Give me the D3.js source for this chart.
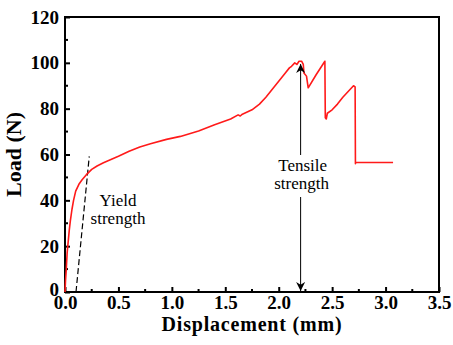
<!DOCTYPE html>
<html lang="en">
<head>
  <meta charset="utf-8">
  <title>Load vs Displacement</title>
  <script src="https://d3js.org/d3.v7.js"></script>
  <style>
    body { margin: 0; background: #fff; }
    svg text { font-family: "Liberation Serif", "Times New Roman", Times, serif; }
  </style>
</head>
<body>
  <div id="my_dataviz"></div>

  <script>
    // Curve data
    var displacement = [0, 0.005, 0.012, 0.02, 0.03, 0.04, 0.05, 0.065, 0.08, 0.1, 0.13, 0.16, 0.2, 0.25, 0.3, 0.36, 0.43, 0.5,
      0.6, 0.7, 0.8, 0.95, 1.08, 1.25, 1.4, 1.55, 1.62, 1.64, 1.66, 1.75, 1.82, 1.88, 1.94, 2.0, 2.06, 2.1, 2.12, 2.15, 2.17, 2.19,
      2.214, 2.23, 2.236, 2.26, 2.276, 2.35, 2.432, 2.436, 2.445, 2.455, 2.5, 2.55, 2.6, 2.65, 2.7, 2.715, 2.718, 2.72, 3.07];
    var load = [0, 5, 10, 17, 22, 27, 31, 36, 40, 44, 47, 49, 51.2, 53.5, 55, 56.4, 57.8, 59.2,
      61.4, 63.3, 64.7, 66.6, 67.9, 70.3, 73, 75.5, 77.3, 76.8, 77.6, 79.5, 82, 85, 88.5, 92, 95.5, 97.8, 98.5, 100, 99.3, 100.7,
      100.7, 99.3, 95.6, 94.2, 89.1, 94.8, 100.7, 76, 75.5, 78, 79.5, 82, 85, 87.5, 90, 89.5, 56, 56.5, 56.5];

    // Dashed elastic line
    var yieldLineX = [0.103, 0.227];
    var yieldLineY = [0, 59.2];

    // Tensile strength arrow
    var tensileX = 2.205;
    var tensileTop = 99.5;

    var xTicks = [0, 0.5, 1.0, 1.5, 2.0, 2.5, 3.0, 3.5];
    var yTicks = [0, 20, 40, 60, 80, 100, 120];

    var W = 453, H = 345;
    var margin = {top: 17, right: 14, bottom: 53, left: 65},
        width = W - margin.left - margin.right,
        height = H - margin.top - margin.bottom;

    var serif = "'Liberation Serif', 'Times New Roman', Times, serif";

    var svg = d3.select("#my_dataviz")
      .append("svg")
      .attr("width", W)
      .attr("height", H)
      .attr("font-family", serif);

    var defs = svg.append("defs");
    defs.append("marker")
      .attr("id", "arrowUp")
      .attr("viewBox", "0 0 10 10")
      .attr("refX", 5).attr("refY", 0)
      .attr("markerWidth", 9).attr("markerHeight", 10)
      .attr("markerUnits", "userSpaceOnUse")
      .attr("orient", "0")
      .append("path")
      .attr("d", "M0,10 L5,0 L10,10 L5,7 Z")
      .attr("fill", "#000");
    defs.append("marker")
      .attr("id", "arrowDown")
      .attr("viewBox", "0 0 10 10")
      .attr("refX", 5).attr("refY", 10)
      .attr("markerWidth", 9).attr("markerHeight", 10)
      .attr("markerUnits", "userSpaceOnUse")
      .attr("orient", "0")
      .append("path")
      .attr("d", "M0,0 L5,10 L10,0 L5,3 Z")
      .attr("fill", "#000");

    var g = svg.append("g")
      .attr("transform", "translate(" + margin.left + "," + margin.top + ")");

    var x = d3.scaleLinear().domain([0, 3.5]).range([0, width]);
    var y = d3.scaleLinear().domain([0, 120]).range([height, 0]);

    // minor ticks (inside)
    var xMinor = d3.range(0.25, 3.5, 0.5);
    var yMinor = d3.range(10, 120, 20);

    var xAxis = g.append("g")
      .attr("transform", "translate(0," + height + ")")
      .call(d3.axisBottom(x).tickValues(xTicks).tickSize(-5).tickPadding(4)
        .tickFormat(d3.format(".1f")));
    var yAxis = g.append("g")
      .call(d3.axisLeft(y).tickValues(yTicks).tickSize(-5).tickPadding(6)
        .tickFormat(d3.format("d")));

    [xAxis, yAxis].forEach(function(a) {
      a.attr("font-family", serif);
      a.select(".domain").remove();
      a.selectAll(".tick line").attr("stroke", "#000").attr("stroke-width", 2);
      a.selectAll("text")
        .attr("fill", "#000")
        .attr("font-family", serif)
        .style("font-size", "19px")
        .style("font-weight", "bold");
    });
    // lift the y "0" a touch so it clears the x "0.0"
    yAxis.selectAll(".tick text").filter(function(d) { return d === 0; }).attr("dy", "0.2em");

    g.append("g").selectAll("line").data(xMinor).enter().append("line")
      .attr("x1", function(d) { return x(d); }).attr("x2", function(d) { return x(d); })
      .attr("y1", height).attr("y2", height - 3)
      .attr("stroke", "#000").attr("stroke-width", 2);
    g.append("g").selectAll("line").data(yMinor).enter().append("line")
      .attr("y1", function(d) { return y(d); }).attr("y2", function(d) { return y(d); })
      .attr("x1", 0).attr("x2", 3)
      .attr("stroke", "#000").attr("stroke-width", 2);

    // frame
    g.append("rect")
      .attr("x", 0).attr("y", 0)
      .attr("width", width).attr("height", height)
      .attr("fill", "none")
      .attr("stroke", "#000")
      .attr("stroke-width", 2);

    // dashed yield line
    g.append("line")
      .attr("x1", x(yieldLineX[0])).attr("y1", y(yieldLineY[0]))
      .attr("x2", x(yieldLineX[1])).attr("y2", y(yieldLineY[1]))
      .attr("stroke", "#000")
      .attr("stroke-width", 1.2)
      .attr("stroke-dasharray", "6,3");

    // curve
    var pts = displacement.map(function(d, i) { return [d, load[i]]; });
    g.append("path")
      .datum(pts)
      .attr("fill", "none")
      .attr("stroke", "#ff1a1a")
      .attr("stroke-width", 1.6)
      .attr("stroke-linejoin", "round")
      .attr("d", d3.line()
        .x(function(d) { return x(d[0]); })
        .y(function(d) { return y(d[1]); }));

    // tensile arrow (split around the label)
    g.append("line")
      .attr("x1", x(tensileX)).attr("x2", x(tensileX))
      .attr("y1", 138).attr("y2", y(tensileTop))
      .attr("stroke", "#000").attr("stroke-width", 1)
      .attr("marker-end", "url(#arrowUp)");
    g.append("line")
      .attr("x1", x(tensileX)).attr("x2", x(tensileX))
      .attr("y1", 180).attr("y2", y(0) - 1)
      .attr("stroke", "#000").attr("stroke-width", 1)
      .attr("marker-end", "url(#arrowDown)");

    // annotations
    var ann = g.append("g")
      .attr("font-family", serif)
      .style("font-size", "17px")
      .attr("fill", "#000")
      .attr("text-anchor", "middle");
    ann.append("text").attr("x", 118 - margin.left).attr("y", 206 - margin.top).text("Yield");
    ann.append("text").attr("x", 118 - margin.left).attr("y", 224 - margin.top).text("strength");
    ann.append("text").attr("x", x(tensileX) + 2).attr("y", 171 - margin.top).text("Tensile");
    ann.append("text").attr("x", x(tensileX) + 1).attr("y", 189 - margin.top).text("strength");

    // axis titles
    svg.append("text")
      .attr("x", 252)
      .attr("y", 331)
      .attr("text-anchor", "middle")
      .style("font-size", "20px")
      .style("font-weight", "bold")
      .style("letter-spacing", "0.8px")
      .text("Displacement (mm)");
    svg.append("text")
      .attr("transform", "translate(21," + (margin.top + height / 2) + ") rotate(-90)")
      .attr("text-anchor", "middle")
      .style("font-size", "22px")
      .style("font-weight", "bold")
      .text("Load (N)");
  </script>
</body>
</html>
